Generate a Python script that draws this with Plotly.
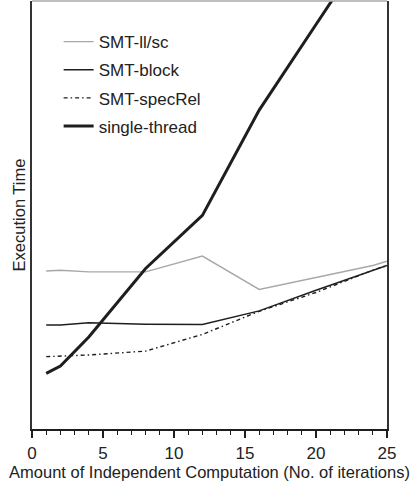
import plotly.graph_objects as go

# Data (arbitrary execution-time units, y axis unlabeled)
x_llsc = [1, 2, 4, 8, 12, 16, 24, 25]
y_llsc = [36.9, 37.1, 36.7, 36.7, 40.4, 32.6, 38.2, 39.2]

x_block = [1, 2, 4, 8, 12, 16, 20, 24, 25]
y_block = [24.3, 24.3, 24.8, 24.5, 24.4, 27.6, 32.4, 37.1, 38.2]

x_spec = [1, 2, 4, 8, 12, 16, 20, 24, 25]
y_spec = [16.9, 17.0, 17.3, 18.2, 22.1, 27.5, 31.9, 37.1, 38.2]

x_single = [1, 2, 4, 8, 12, 16, 20, 24]
y_single = [13.0, 14.7, 21.5, 37.5, 49.9, 74.5, 94.5, 114.5]

names = ["SMT-ll/sc", "SMT-block", "SMT-specRel", "single-thread"]

FONT = "Liberation Sans, Arial, Helvetica, sans-serif"
DARK = "#1e1e1e"
GRAY = "#a8a8a8"

fig = go.Figure()
fig.add_trace(go.Scatter(x=x_llsc, y=y_llsc, mode="lines", name=names[0], legendgroup="a",
                         line=dict(color=GRAY, width=1.4)))
fig.add_trace(go.Scatter(x=x_block, y=y_block, mode="lines", name=names[1], legendgroup="b",
                         line=dict(color=DARK, width=1.5)))
fig.add_trace(go.Scatter(x=x_spec, y=y_spec, mode="lines", name=names[2], legendgroup="c",
                         line=dict(color=DARK, width=1.4, dash="4px,3px,1.5px,3px")))
fig.add_trace(go.Scatter(x=x_single, y=y_single, mode="lines", name=names[3], legendgroup="d",
                         line=dict(color=DARK, width=3)))

fig.update_layout(
    width=412, height=482,
    margin=dict(l=32, r=25, t=1, b=53),
    paper_bgcolor="white", plot_bgcolor="white",
    font=dict(family=FONT, size=16.5, color="#222222"),
    showlegend=True,
    legend=dict(x=0.075, y=0.946, xanchor="left", yanchor="top",
                bgcolor="rgba(0,0,0,0)", borderwidth=0,
                font=dict(size=17, color="#222222"),
                tracegroupgap=3, traceorder="grouped"),
    xaxis=dict(range=[0, 25], tickmode="linear", tick0=0, dtick=5,
               ticks="outside", ticklen=7, tickwidth=1.5, tickcolor=DARK,
               minor=dict(dtick=1, ticks="outside", ticklen=4, tickwidth=1, tickcolor=DARK),
               showline=True, linecolor=DARK, linewidth=2,
               showgrid=False, zeroline=False,
               tickfont=dict(size=17), ticklabelstandoff=1,
               title=dict(text="Amount of Independent Computation (No. of iterations)",
                          font=dict(size=16.5), standoff=3)),
    yaxis=dict(range=[0, 100], showticklabels=False, ticks="",
               showline=True, mirror=True, linecolor="#333333", linewidth=1.5,
               showgrid=False, zeroline=False,
               title=dict(text="Execution Time", font=dict(size=16.5), standoff=0)),
    shapes=[dict(type="line", xref="paper", yref="paper", x0=0, x1=1, y0=1, y1=1,
                 line=dict(color=GRAY, width=1.5))],
)

fig.write_html("out.html")
